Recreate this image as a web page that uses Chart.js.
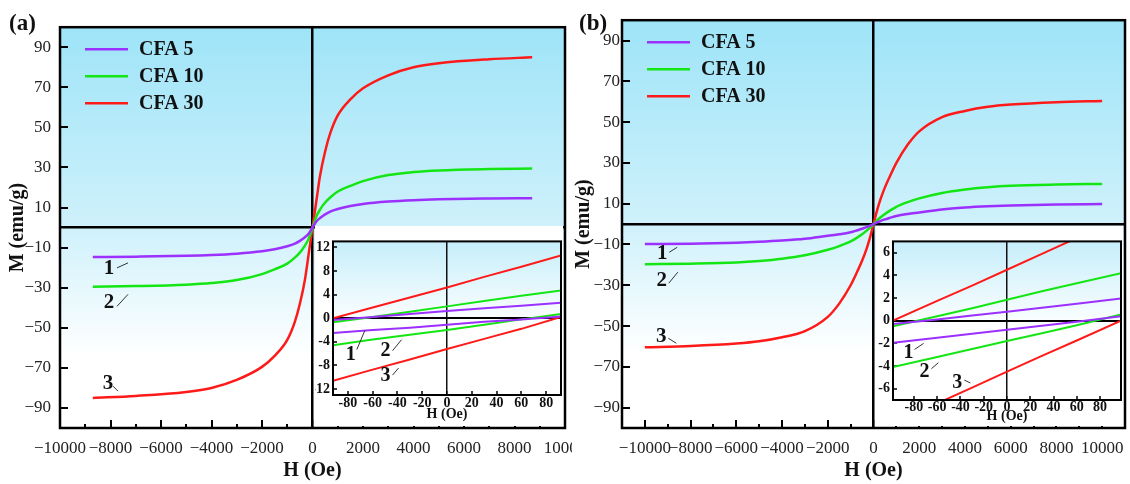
<!DOCTYPE html>
<html>
<head>
<meta charset="utf-8">
<script src="https://cdn.jsdelivr.net/npm/chart.js@4/dist/chart.umd.min.js"></script>
<style>
  html, body { margin: 0; padding: 0; background: #fff; }
  body { width: 1130px; height: 484px; position: relative; overflow: hidden; }
  canvas { position: absolute; }
  .tag { position: absolute; font: bold 23px "Liberation Serif", serif; color: #111; line-height: normal; }
</style>
</head>
<body>
<canvas id="mainA" width="572" height="484" style="left:0;top:0"></canvas>
<canvas id="mainB" width="558" height="484" style="left:572px;top:0"></canvas>
<canvas id="insetA" width="248" height="200" style="left:315px;top:226px;background:#fff"></canvas>
<canvas id="insetB" width="247" height="200" style="left:876px;top:226px;background:#fff"></canvas>
<div class="tag" style="left:9px;top:10px">(a)</div>
<div class="tag" style="left:579px;top:10px">(b)</div>
<script>
const SERIF = '"Liberation Serif", "Times New Roman", serif';
const names = ['CFA 5', 'CFA 10', 'CFA 30'];
const colors = ['#9b30ff', '#14e614', '#ff1a1a'];

// (a) full loops, H in Oe, M in emu/g
const fieldA = [-8700, -7000, -5000, -4000, -3000, -2000, -1500, -1000, -700, -500, -300, -150, 0,
                150, 300, 500, 700, 1000, 1500, 2000, 3000, 4000, 5000, 7000, 8700];
const cfa5A  = [-14.7, -14.5, -14.1, -13.7, -13.0, -11.8, -10.8, -9.3, -8.0, -6.6, -4.8, -3.0, 0,
                3.0, 4.8, 6.6, 8.0, 9.3, 10.8, 11.8, 13.0, 13.7, 14.1, 14.5, 14.7];
const cfa10A = [-29.5, -29.2, -28.5, -27.7, -26.2, -23.2, -20.8, -18.0, -15.0, -12.5, -9.0, -5.5, 0,
                5.5, 9.0, 12.5, 15.0, 18.0, 20.8, 23.2, 26.2, 27.7, 28.5, 29.2, 29.5];
const cfa30A = [-85.0, -84.0, -82.0, -80.0, -76.0, -69.5, -64.0, -56.0, -47.0, -38.0, -26.0, -13.0, 0,
                13.0, 26.0, 38.0, 47.0, 56.0, 64.0, 69.5, 76.0, 80.0, 82.0, 84.0, 85.0];

// (b) full loops
const fieldB = [-10000, -8000, -6000, -5000, -4000, -3000, -2000, -1500, -1000, -700, -500, -300, -150, 0,
                150, 300, 500, 700, 1000, 1500, 2000, 3000, 4000, 5000, 6000, 8000, 10000];
const cfa5B  = [-9.8, -9.6, -9.1, -8.7, -8.1, -7.2, -5.7, -5.0, -4.0, -3.0, -2.3, -1.5, -0.8, 0,
                0.8, 1.5, 2.3, 3.0, 4.0, 5.0, 5.7, 7.2, 8.1, 8.7, 9.1, 9.6, 9.8];
const cfa10B = [-19.7, -19.4, -18.8, -18.1, -17.0, -15.3, -12.6, -10.8, -8.5, -6.5, -5.0, -3.2, -1.7, 0,
                1.7, 3.2, 5.0, 6.5, 8.5, 10.8, 12.6, 15.3, 17.0, 18.1, 18.8, 19.4, 19.7];
const cfa30B = [-60.4, -59.8, -58.6, -57.5, -55.5, -52.5, -45.5, -39.0, -30.0, -23.0, -18.0, -12.0, -6.5, 0,
                6.5, 12.0, 18.0, 23.0, 30.0, 39.0, 45.5, 52.5, 55.5, 57.5, 58.6, 59.8, 60.4];

// insets: low-field part of the loops, upper and lower branch
const insetFieldA = [-92, -60, -30, 0, 30, 60, 92];
const cfa5UpA   = [-0.3, 0.2, 0.7, 1.2, 1.7, 2.1, 2.6];
const cfa5LowA  = [-2.5, -2.0, -1.6, -1.1, -0.6, -0.2, 0.3];
const cfa10UpA  = [-0.7, 0.2, 1.1, 2.0, 2.9, 3.8, 4.7];
const cfa10LowA = [-4.6, -3.6, -2.8, -2.0, -1.1, -0.2, 0.7];
const cfa30UpA  = [0.0, 1.8, 3.5, 5.2, 7.0, 8.7, 10.6];
const cfa30LowA = [-10.6, -8.7, -7.0, -5.2, -3.5, -1.8, 0.2];

const insetFieldB = [-98, -60, -30, 0, 30, 60, 98];
const cfa5UpB   = [-0.3, 0.1, 0.45, 0.8, 1.15, 1.5, 1.95];
const cfa5LowB  = [-1.95, -1.5, -1.15, -0.8, -0.45, -0.1, 0.4];
const cfa10UpB  = [-0.5, 0.4, 1.1, 1.85, 2.6, 3.3, 4.2];
const cfa10LowB = [-4.1, -3.2, -2.5, -1.8, -1.1, -0.4, 0.55];
const cfa30UpB  = [0.0, 1.75, 3.1, 4.5, 5.9, 7.3, 9.0];
const cfa30LowB = [-9.0, -7.3, -5.9, -4.5, -3.1, -1.75, 0.0];

// tick values
const mainYTicks = [-90, -70, -50, -30, -10, 0, 10, 30, 50, 70, 90];
const mainXTicks = [-10000, -8000, -6000, -4000, -2000, 0, 2000, 4000, 6000, 8000, 10000];
const insetXTicks = [-80, -60, -40, -20, 0, 20, 40, 60, 80];
const insetYTicksA = [-12, -8, -4, 0, 4, 8, 12];
const insetYTicksB = [-6, -4, -2, 0, 2, 4, 6];

// curve numbers (data coordinates)
const marksA = [{t: '1', x: -8060, y: -20.6}, {t: '2', x: -8060, y: -37.3}, {t: '3', x: -8100, y: -77.6}];
const marksB = [{t: '1', x: -9240, y: -14.3}, {t: '2', x: -9260, y: -27.5}, {t: '3', x: -9280, y: -55}];
const insetMarksA = [{t: '1', x: -77.6, y: -6.15}, {t: '2', x: -49.6, y: -5.5}, {t: '3', x: -49.6, y: -9.8}];
const insetMarksB = [{t: '1', x: -84.6, y: -2.8}, {t: '2', x: -71, y: -4.5}, {t: '3', x: -42.7, y: -5.5}];

const pts = (xs, ys) => xs.map((x, i) => ({x: x, y: ys[i]}));
const minus = v => v < 0 ? '\u2212' + Math.abs(v) : String(v);
const isZero = c => c.tick && c.tick.value === 0;

// background gradient, frame, minor ticks, legend and curve numbers
const panelPlugin = {
    id: 'panel',
    beforeDraw(chart, args, opts) {
        const {ctx, chartArea: a} = chart;
        const g = ctx.createLinearGradient(0, a.top, 0, a.bottom);
        opts.stops.forEach(s => g.addColorStop(s[0], s[1]));
        ctx.save();
        ctx.fillStyle = g;
        ctx.fillRect(a.left, a.top, a.right - a.left, a.bottom - a.top);
        ctx.restore();
    },
    afterDraw(chart, args, opts) {
        const {ctx, chartArea: a, scales} = chart;
        ctx.save();
        ctx.strokeStyle = '#000';
        if (opts.minor) {
            const t = scales.x.ticks;
            ctx.lineWidth = 2;
            for (let i = 0; i < t.length - 1; i++) {
                const px = Math.round(scales.x.getPixelForValue((t[i].value + t[i + 1].value) / 2));
                ctx.beginPath();
                ctx.moveTo(px, a.bottom);
                ctx.lineTo(px, a.bottom - opts.minor);
                ctx.stroke();
            }
        }
        ctx.lineWidth = opts.frame;
        ctx.strokeRect(a.left, a.top, a.right - a.left, a.bottom - a.top);

        if (opts.legend) {
            ctx.font = 'bold 20px ' + SERIF;
            ctx.textBaseline = 'middle';
            ctx.textAlign = 'left';
            chart.data.datasets.forEach((ds, i) => {
                const y = a.top + 22 + 27 * i;
                ctx.strokeStyle = ds.borderColor;
                ctx.lineWidth = 2.5;
                ctx.beginPath();
                ctx.moveTo(a.left + 25, y);
                ctx.lineTo(a.left + 68, y);
                ctx.stroke();
                ctx.fillStyle = '#111';
                ctx.fillText(ds.label, a.left + 79, y + 1);
            });
        }

        ctx.font = opts.markFont;
        ctx.textAlign = 'center';
        ctx.textBaseline = 'middle';
        (opts.marks || []).forEach((m, i) => {
            const px = scales.x.getPixelForValue(m.x);
            const py = scales.y.getPixelForValue(m.y);
            const s = opts.slashes[i];
            ctx.fillStyle = '#111';
            ctx.fillText(m.t, px, py);
            ctx.strokeStyle = '#333';
            ctx.lineWidth = 1;
            ctx.beginPath();
            ctx.moveTo(px + s[0], py + s[1]);
            ctx.lineTo(px + s[2], py + s[3]);
            ctx.stroke();
        });
        ctx.restore();
    }
};

function mainChart(id, fields, series, xMin, xMax, yWidth, padRight, yTickPad, yTitlePad, marks, slashes) {
    return new Chart(document.getElementById(id), {
        type: 'scatter',
        data: {
            datasets: series.map((s, i) => ({
                label: names[i],
                data: pts(fields, s),
                showLine: true,
                borderColor: colors[i],
                borderWidth: 2.5,
                pointRadius: 0,
                cubicInterpolationMode: 'monotone'
            }))
        },
        options: {
            responsive: false,
            animation: false,
            devicePixelRatio: 1,
            events: [],
            layout: { padding: { left: 0, top: 20, right: padRight, bottom: 0 } },
            scales: {
                x: {
                    type: 'linear', min: xMin, max: xMax,
                    afterBuildTicks: s => { s.ticks = mainXTicks.map(v => ({value: v})); },
                    afterFit: s => { s.height = 56; s.paddingLeft = 0; s.paddingRight = 0; },
                    border: { display: false },
                    grid: {
                        color: c => isZero(c) ? '#000' : 'rgba(0,0,0,0)',
                        lineWidth: c => isZero(c) ? 2.5 : 0,
                        tickColor: '#000', tickWidth: 2, tickLength: -8
                    },
                    ticks: {
                        autoSkip: false, maxRotation: 0, padding: 18, color: '#222',
                        font: { family: SERIF, size: 17 },
                        callback: v => minus(v)
                    },
                    title: {
                        display: true, text: 'H (Oe)', color: '#111',
                        font: { family: SERIF, size: 20, weight: 'bold' },
                        padding: { top: 0, bottom: 1 }
                    }
                },
                y: {
                    type: 'linear', min: -100, max: 100,
                    afterBuildTicks: s => { s.ticks = mainYTicks.map(v => ({value: v})); },
                    afterFit: s => { s.width = yWidth; },
                    border: { display: false },
                    grid: {
                        color: c => isZero(c) ? '#000' : 'rgba(0,0,0,0)',
                        lineWidth: c => isZero(c) ? 2.5 : 0,
                        tickColor: c => isZero(c) ? 'rgba(0,0,0,0)' : '#000',
                        tickWidth: 2, tickLength: -8
                    },
                    ticks: {
                        autoSkip: false, padding: yTickPad, color: '#222',
                        font: { family: SERIF, size: 17 },
                        callback: v => v === 0 ? '' : minus(v)
                    },
                    title: {
                        display: true, text: 'M (emu/g)', color: '#111',
                        font: { family: SERIF, size: 20, weight: 'bold' },
                        padding: { top: yTitlePad, bottom: 0 }
                    }
                }
            },
            plugins: {
                legend: { display: false },
                tooltip: { enabled: false },
                panel: {
                    stops: [[0, '#9ee4f8'], [0.5, '#cff1fb'], [0.82, '#ffffff']],
                    frame: 2.5, minor: 4, legend: true,
                    marks: marks, slashes: slashes, markFont: 'bold 21px ' + SERIF
                }
            }
        },
        plugins: [panelPlugin]
    });
}

function insetChart(id, fields, ups, lows, xLim, yLim, yTicks, yWidth, xHeight, padTop, xTickPad, titlePad, marks, slashes) {
    const datasets = [];
    ups.forEach((s, i) => {
        datasets.push({ label: names[i], data: pts(fields, s), showLine: true, borderColor: colors[i], borderWidth: 2, pointRadius: 0 });
        datasets.push({ label: names[i], data: pts(fields, lows[i]), showLine: true, borderColor: colors[i], borderWidth: 2, pointRadius: 0 });
    });
    return new Chart(document.getElementById(id), {
        type: 'scatter',
        data: { datasets: datasets },
        options: {
            responsive: false,
            animation: false,
            devicePixelRatio: 1,
            events: [],
            layout: { padding: { left: 0, top: padTop, right: 2, bottom: 0 } },
            scales: {
                x: {
                    type: 'linear', min: -xLim, max: xLim,
                    afterBuildTicks: s => { s.ticks = insetXTicks.map(v => ({value: v})); },
                    afterFit: s => { s.height = xHeight; s.paddingLeft = 0; s.paddingRight = 0; },
                    border: { display: false },
                    grid: {
                        color: c => isZero(c) ? '#111' : 'rgba(0,0,0,0)',
                        lineWidth: c => isZero(c) ? 1.5 : 0,
                        tickColor: '#000', tickWidth: 1.5, tickLength: -4
                    },
                    ticks: {
                        autoSkip: false, maxRotation: 0, padding: xTickPad, color: '#111',
                        font: { family: SERIF, size: 14, weight: 'bold' }
                    },
                    title: {
                        display: true, text: 'H (Oe)', color: '#111',
                        font: { family: SERIF, size: 14, weight: 'bold' },
                        padding: { top: 0, bottom: titlePad }
                    }
                },
                y: {
                    type: 'linear', min: -yLim, max: yLim,
                    afterBuildTicks: s => { s.ticks = yTicks.map(v => ({value: v})); },
                    afterFit: s => { s.width = yWidth; },
                    border: { display: false },
                    grid: {
                        color: c => isZero(c) ? '#000' : 'rgba(0,0,0,0)',
                        lineWidth: c => isZero(c) ? 2 : 0,
                        tickColor: '#000', tickWidth: 1.5, tickLength: -4
                    },
                    ticks: {
                        autoSkip: false, padding: 7, color: '#111',
                        font: { family: SERIF, size: 14, weight: 'bold' }
                    }
                }
            },
            plugins: {
                legend: { display: false },
                tooltip: { enabled: false },
                panel: {
                    stops: [[0, '#c6eefa'], [0.55, '#ffffff']],
                    frame: 2, minor: 0, legend: false,
                    marks: marks, slashes: slashes, markFont: 'bold 20px ' + SERIF
                }
            }
        },
        plugins: [panelPlugin]
    });
}

mainChart('mainA', fieldA, [cfa5A, cfa10A, cfa30A], -10000, 10000, 60, 7, 17, 6,
    marksA, [[8, -1, 19, -6], [8, 4, 19, -8], [5, 3, 10, 8]]);
mainChart('mainB', fieldB, [cfa5B, cfa10B, cfa30B], -11000, 11000, 50, 5, 10, 0,
    marksB, [[7, -1, 15, -6], [7, 3, 16, -8], [7, 2, 15, 7]]);

insetChart('insetA', insetFieldA, [cfa5UpA, cfa10UpA, cfa30UpA], [cfa5LowA, cfa10LowA, cfa30LowA],
    92, 13, insetYTicksA, 18, 31, 2, 4, 3,
    insetMarksA, [[6, -5, 14, -24], [7, 0, 16, -11], [7, -1, 13, -8]]);
insetChart('insetB', insetFieldB, [cfa5UpB, cfa10UpB, cfa30UpB], [cfa5LowB, cfa10LowB, cfa30LowB],
    98, 7, insetYTicksB, 17, 26, 1, 3, 1,
    insetMarksB, [[6, -3, 15, -9], [7, -3, 14, -9], [7, -3, 13, 0]]);
</script>
</body>
</html>
